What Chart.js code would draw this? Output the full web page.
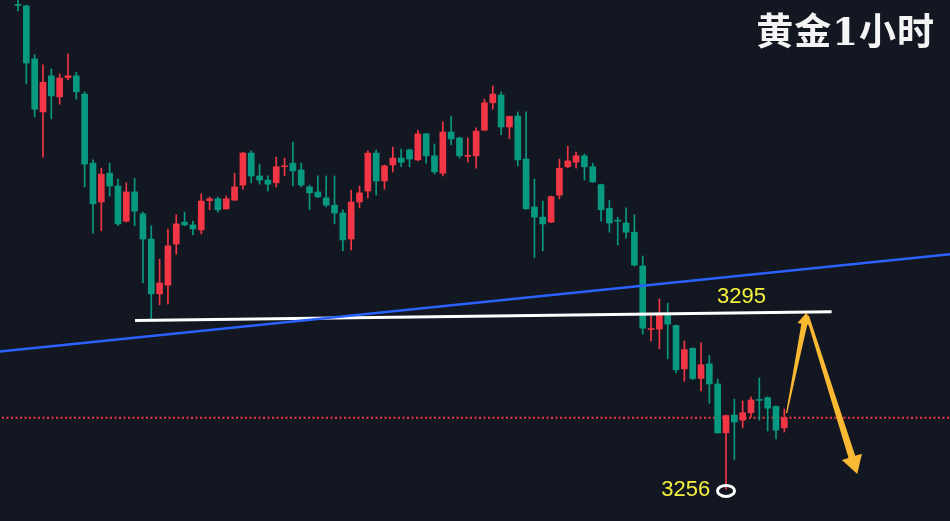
<!DOCTYPE html>
<html>
<head>
<meta charset="utf-8">
<script src="https://cdn.jsdelivr.net/npm/chart.js@4.4.1/dist/chart.umd.min.js"></script>
<style>
  html,body{margin:0;padding:0;background:#131722;overflow:hidden;}
  #wrap{position:relative;width:950px;height:521px;}
  canvas{display:block;}
  #title{position:absolute;right:15px;top:14px;color:#f4f4f4;font-family:"DejaVu Serif","Noto Sans CJK SC",serif;font-weight:700;font-size:37px;line-height:1;letter-spacing:1px;white-space:nowrap;}
</style>
</head>
<body>
<div id="wrap">
  <canvas id="c" width="950" height="521"></canvas>
  <div id="title">黄金1小时</div>
</div>
<script>
// ---- data (gold, 1-hour candles) ----
const opens  = [3362.1,3361.9,3350.3,3338.7,3346.6,3342.0,3346.2,3346.6,3342.6,3327.5,
                3319.0,3325.3,3322.5,3314.8,3321.2,3316.4,3310.9,3298.9,3300.8,3309.8,
                3314.6,3314.0,3312.9,3319.3,3319.7,3317.5,3319.4,3322.7,3329.7,3324.7,
                3323.8,3323.2,3326.7,3327.5,3326.0,3322.3,3321.2,3319.9,3318.3,3316.6,
                3310.9,3319.0,3321.4,3329.7,3323.6,3327.1,3328.6,3330.4,3328.2,3333.9,
                3329.1,3325.3,3334.3,3333.0,3329.0,3329.1,3334.7,3340.7,3342.4,3335.4,
                3337.8,3328.4,3317.9,3315.7,3314.6,3320.5,3326.7,3327.7,3329.1,3326.7,
                3322.8,3317.6,3315.0,3314.4,3312.4,3305.0,3291.1,3291.2,3294.5,3292.0,
                3282.5,3287.0,3280.4,3283.6,3279.2,3268.5,3272.4,3271.3,3272.9,3275.8,
                3276.2,3274.3,3269.6];
const highs  = [3363.5,3362.1,3351.2,3349.0,3348.1,3347.0,3351.4,3347.4,3343.1,3328.2,
                3326.4,3327.5,3324.0,3323.2,3324.2,3316.8,3313.8,3306.5,3313.1,3316.2,
                3316.8,3314.8,3320.8,3320.1,3320.1,3320.3,3325.3,3329.9,3330.2,3327.3,
                3324.7,3328.8,3328.6,3332.1,3327.5,3322.7,3324.7,3324.7,3324.7,3317.3,
                3321.6,3322.5,3330.2,3330.4,3327.1,3331.0,3330.6,3330.6,3334.7,3334.1,
                3331.7,3336.5,3337.8,3333.2,3333.0,3335.2,3341.5,3344.4,3343.1,3337.8,
                3338.7,3338.7,3324.0,3319.2,3320.3,3328.4,3331.2,3329.9,3329.5,3327.5,
                3322.9,3319.4,3315.7,3317.7,3316.2,3307.2,3294.3,3297.8,3296.9,3292.1,
                3288.6,3287.1,3288.2,3285.4,3280.3,3272.4,3275.9,3275.5,3276.4,3280.5,
                3276.4,3274.4,3273.7];
const lows   = [3360.8,3344.8,3337.6,3328.8,3337.2,3340.4,3345.7,3341.5,3322.3,3312.2,
                3312.7,3320.3,3313.8,3314.6,3313.8,3301.3,3293.2,3296.5,3296.7,3307.6,
                3313.8,3311.8,3312.0,3317.3,3316.8,3317.4,3319.3,3321.8,3323.2,3322.9,
                3321.4,3322.3,3324.7,3322.5,3322.3,3317.3,3320.0,3317.9,3314.2,3308.3,
                3308.5,3317.7,3319.9,3320.5,3321.8,3325.6,3326.7,3326.7,3328.0,3327.5,
                3325.1,3324.7,3331.5,3328.6,3327.7,3326.4,3334.6,3339.3,3333.7,3332.8,
                3326.9,3317.4,3306.8,3308.3,3314.5,3319.7,3326.5,3326.4,3323.8,3323.3,
                3314.8,3312.4,3309.6,3311.1,3305.0,3290.1,3288.6,3286.9,3284.7,3281.6,
                3279.8,3280.1,3277.7,3275.0,3268.4,3256.2,3262.6,3269.6,3272.0,3271.3,
                3268.9,3267.2,3268.7];
const closes = [3362.0,3349.4,3339.3,3345.2,3342.2,3346.1,3346.6,3343.1,3327.3,3318.6,
                3325.1,3322.5,3314.2,3321.2,3317.0,3310.9,3298.9,3301.3,3309.4,3314.2,
                3314.0,3313.1,3319.2,3319.7,3317.3,3319.7,3322.3,3329.7,3324.7,3323.8,
                3322.9,3326.7,3326.9,3325.8,3322.7,3321.0,3320.1,3318.3,3316.6,3310.7,
                3319.0,3321.0,3329.7,3323.6,3326.9,3328.6,3327.7,3328.4,3333.9,3329.1,
                3325.6,3334.3,3332.8,3329.1,3329.2,3334.5,3340.7,3342.6,3335.4,3337.7,
                3328.2,3317.5,3315.7,3314.2,3320.2,3326.4,3328.0,3329.1,3326.7,3323.4,
                3317.3,3314.4,3314.8,3312.4,3305.2,3291.4,3291.3,3294.3,3292.3,3282.3,
                3286.7,3280.4,3283.4,3279.2,3268.5,3272.3,3270.9,3272.9,3275.7,3275.6,
                3273.9,3269.1,3271.8];

// drawn studies, in (candle index, price)
const trendLine   = [[-2.16, 3286.3], [111.9, 3307.6]];   // blue
const levelLine   = [[14.05, 3293.1], [97.68, 3295.0]];   // white, 3295
const levelLabels = [{text:"3295", at:[86.85, 3298.2], align:"center"},
                     {text:"3256", at:[83.1, 3256.0], align:"right"}];
const lowMarker   = [85, 3255.8];
const arrowUp     = {from:[92.28, 3272.85], to:[94.68, 3294.83], head:12, wing:7,  neck:6,   tail:1.2};
const arrowDown   = {from:[94.78, 3294.06], to:[100.76, 3259.5], head:18, wing:10.5, neck:7, tail:3};

const UP = '#F23645', DOWN = '#089981';
const idx = closes.map((_, i) => i);
const colorOf = i => closes[i] > opens[i] ? UP : DOWN;

const bodies = idx.map(i => ({x:i, y:[opens[i], closes[i]]}));
const wicks  = idx.map(i => ({x:i, y:[lows[i], highs[i]]}));
const lastClose = closes[closes.length - 1];

const overlay = {
  id:'overlay',
  afterDatasetsDraw(chart){
    const {ctx, scales:{x, y}} = chart;
    const P = p => [x.getPixelForValue(p[0]), y.getPixelForValue(p[1])];
    ctx.save();
    [arrowUp, arrowDown].forEach(a => {
      const [x0, y0] = P(a.from), [x1, y1] = P(a.to);
      const dx = x1 - x0, dy = y1 - y0, L = Math.hypot(dx, dy);
      const ux = dx / L, uy = dy / L, nx = -uy, ny = ux;
      const bx = x1 - ux * a.head, by = y1 - uy * a.head;
      ctx.beginPath();
      ctx.moveTo(x0 + nx * a.tail / 2, y0 + ny * a.tail / 2);
      ctx.lineTo(bx + nx * a.neck / 2, by + ny * a.neck / 2);
      ctx.lineTo(bx + nx * a.wing, by + ny * a.wing);
      ctx.lineTo(x1, y1);
      ctx.lineTo(bx - nx * a.wing, by - ny * a.wing);
      ctx.lineTo(bx - nx * a.neck / 2, by - ny * a.neck / 2);
      ctx.lineTo(x0 - nx * a.tail / 2, y0 - ny * a.tail / 2);
      ctx.closePath();
      ctx.fillStyle = '#F9B932';
      ctx.fill();
    });
    const [cx, cy] = P(lowMarker);
    ctx.beginPath();
    ctx.ellipse(cx, cy, 8.5, 5.5, 0, 0, Math.PI * 2);
    ctx.strokeStyle = '#ffffff';
    ctx.lineWidth = 3;
    ctx.stroke();
    ctx.fillStyle = '#F4F23C';
    ctx.font = '22px "Liberation Sans", Arial, sans-serif';
    ctx.textBaseline = 'middle';
    levelLabels.forEach(l => {
      const [lx, ly] = P(l.at);
      ctx.textAlign = l.align;
      ctx.fillText(l.text, lx, ly);
    });
    ctx.restore();
  }
};

const lineDs = (pts, color, width, order, dash) => ({
  type:'line', data: pts.map(p => ({x:p[0], y:p[1]})),
  borderColor: color, borderWidth: width, pointRadius: 0, order,
  borderDash: dash || [], fill:false, tension:0
});

new Chart(document.getElementById('c'), {
  type:'bar',
  data:{
    datasets:[
      lineDs(trendLine, '#2962FF', 2.5, 0),
      lineDs(levelLine, '#ffffff', 3, 0),
      {
        type:'bar', data: bodies, grouped:false, barThickness:6, minBarLength:1,
        backgroundColor: ctx => colorOf(ctx.dataIndex), borderWidth:0, order:1
      },
      {
        type:'bar', data: wicks, grouped:false, barThickness:1,
        backgroundColor: ctx => colorOf(ctx.dataIndex), borderWidth:0, order:2
      },
      lineDs([[-3, lastClose], [113, lastClose]], '#F23645', 2, 3, [2, 2.5])
    ]
  },
  options:{
    responsive:false, animation:false, maintainAspectRatio:false,
    layout:{padding:0},
    events:[],
    plugins:{legend:{display:false}, tooltip:{enabled:false}, title:{display:false}},
    scales:{
      x:{type:'linear', min:-2.161, max:111.89, display:false, offset:false, grid:{display:false}},
      y:{type:'linear', min:3249.23, max:3363.18, display:false, grid:{display:false}}
    }
  },
  plugins:[overlay]
});
</script>
</body>
</html>
